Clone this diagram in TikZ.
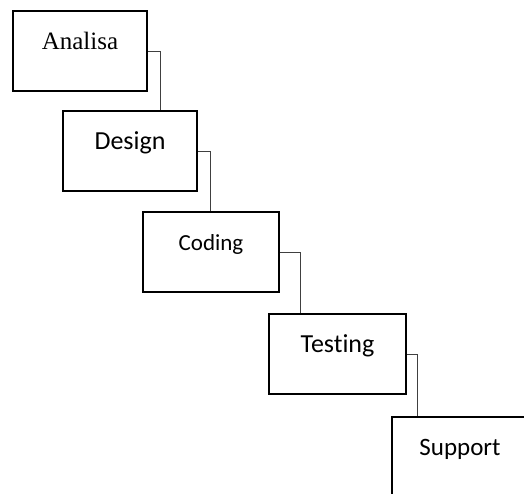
\documentclass[tikz,border=0pt]{standalone}
\usepackage{fontspec}
\usepackage{tikz}
\newfontfamily\carlitofont[Ligatures=NoCommon]{Carlito}
\newfontfamily\serffont{Liberation Serif}

\tikzset{
  phase/.style={draw, line width=1pt, anchor=north, inner sep=0pt,
    minimum width=67pt, text height=19pt, text depth=21pt,
    font=\carlitofont\fontsize{12.5}{15}\selectfont},
  link/.style={draw=black!75, line width=0.5pt}
}

\begin{document}
\begin{tikzpicture}[x=0.5pt,y=-0.5pt]
\clip (0,0) rectangle (524,493);
\useasboundingbox (0,0) rectangle (524,493);

\node [phase, font=\serffont\fontsize{12.5}{15}\selectfont] (analisa) at (80,10) {Analisa};
\node [phase, font=\carlitofont\fontsize{13}{15}\selectfont] (design) at (130,110) {Design};
\node [phase, minimum width=68pt, font=\carlitofont\fontsize{11.5}{14}\selectfont] (coding) at (211,211) {Coding};
\node [phase, minimum width=68.5pt, font=\carlitofont\fontsize{13}{15}\selectfont] (testing) at (337.5,313) {Testing};
\node [phase, minimum width=68pt] (support) at (460,416) {Support};

\draw [link] (analisa.east) -| ([xshift=49pt]design.north west);
\draw [link] (design.east) -| ([xshift=34pt]coding.north west);
\draw [link] (coding.east) -| ([xshift=16pt]testing.north west);
\draw [link] (testing.east) -| ([xshift=13pt]support.north west);
\end{tikzpicture}
\end{document}
